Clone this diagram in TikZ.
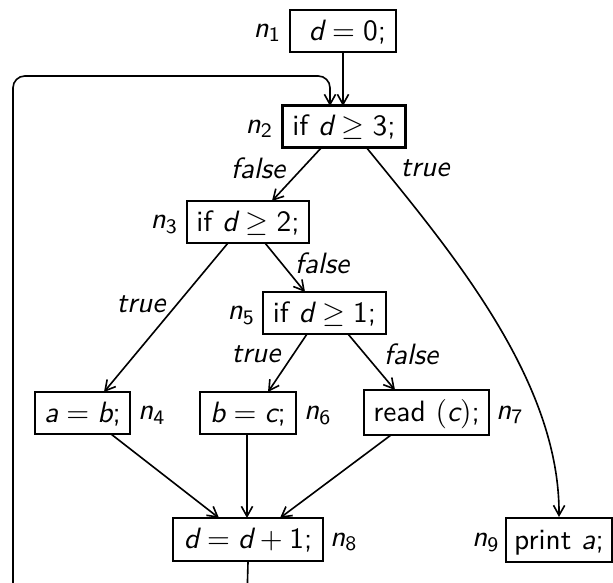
\documentclass[tikz,border=0pt]{standalone}
\usetikzlibrary{arrows.meta}
\newcommand{\vv}[1]{\textit{#1}}
\newcommand{\nn}[1]{\textup{#1}}
\begin{document}
\begin{tikzpicture}[x=0.34pt,y=-0.34pt,
  font=\sffamily\fontsize{10}{12}\selectfont,
  box/.style={draw,line width=0.75pt,inner xsep=2pt,inner ysep=0pt,minimum height=14.3pt,text height=7.6pt,text depth=1.2pt},
  conn/.style={line width=0.55pt,-{Straight Barb[length=3.4pt,width=3.8pt]}},
  lab/.style={inner sep=0pt},
  elab/.style={inner sep=0pt,font=\sffamily\itshape\fontsize{10}{12}\selectfont}]
\useasboundingbox (0,0) rectangle (613,582);
\clip (0,0) rectangle (613,582);
% nodes
\node[box,minimum width=36pt] (n1) at (343,31) {\hspace{3pt}$\vv{d} = \nn{0}$;};
\node[box,minimum width=41.8pt] (n2) at (344,126.5) {if $\vv{d} \geq \nn{3}$;};
\node[box,minimum width=41.5pt] (n3) at (248,222) {if $\vv{d} \geq \nn{2}$;};
\node[box,minimum width=41.8pt] (n5) at (324.5,313) {if $\vv{d} \geq \nn{1}$;};
\node[box,minimum width=32.3pt] (n4) at (82.5,413) {$\vv{a} = \vv{b}$;};
\node[box,minimum width=32.6pt] (n6) at (248,413) {$\vv{b} = \vv{c}$;};
\node[box,minimum width=42.5pt,minimum height=15.3pt] (n7) at (426.5,412.5) {read $(\vv{c})$;};
\node[box,minimum width=51pt,minimum height=14.6pt] (n8) at (248,539.5) {$\vv{d} = \vv{d} + \nn{1}$;};
\node[box,minimum width=36pt,minimum height=14.9pt] (n9) at (559,540) {print \vv{a};};
% node labels
\node[lab] (l1) at (267.5,33) {\textit{n}\textsubscript{1}};
\node[lab] (l2) at (259.5,129) {\textit{n}\textsubscript{2}};
\node[lab] (l3) at (164.5,224.5) {\textit{n}\textsubscript{3}};
\node[lab] (l5) at (241.5,315.5) {\textit{n}\textsubscript{5}};
\node[lab] (l4) at (152,415.5) {\textit{n}\textsubscript{4}};
\node[lab] (l6) at (318,415.5) {\textit{n}\textsubscript{6}};
\node[lab] (l7) at (510,415) {\textit{n}\textsubscript{7}};
\node[lab] (l8) at (344,542) {\textit{n}\textsubscript{8}};
\node[lab] (l9) at (486,542.5) {\textit{n}\textsubscript{9}};
% border points
\coordinate (n1s) at (343,52);
\coordinate (n2nA) at (343,106);
\coordinate (n2nB) at (330,106);
% connectors
\draw[conn] (n1s) -- (n2nA);
\draw[conn,rounded corners=4pt] (n8.south) -- (247,600) -- (13,600) -- (13,76) -- (330,76) -- (n2nB);
\draw[conn] (322,147) -- (272,201);
\draw[conn] (366,147) .. controls (450,250) and (560,380) .. (n9.north);
\draw[conn] (228,243) -- (104,392);
\draw[conn] (265,243) -- (305,292);
\draw[conn] (307,334) -- (268,392);
\draw[conn] (348,334) -- (395,390);
\draw[conn] (111,434) -- (219,518);
\draw[conn] (247,434) -- (247,518);
\draw[conn] (391,435) -- (280,518);
% edge labels
\node[elab] (f1) at (258,168) {false};
\node[elab] (t1) at (425,168) {true};
\node[elab] (t2) at (141,304) {true};
\node[elab] (f2) at (322,263) {false};
\node[elab] (t3) at (256,354) {true};
\node[elab] (f3) at (411,354) {false};
\end{tikzpicture}
\end{document}
